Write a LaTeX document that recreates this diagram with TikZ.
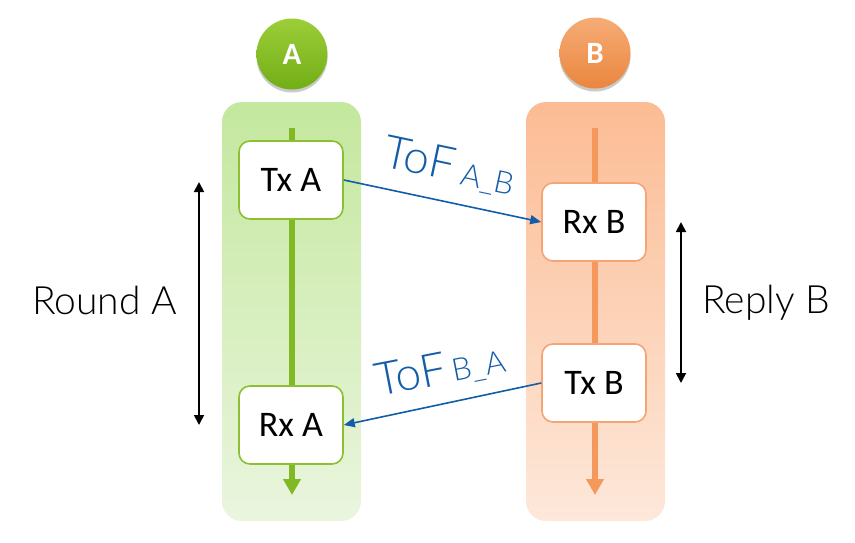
\documentclass[tikz,border=0pt]{standalone}
\usepackage{fontspec}
\setmainfont{Carlito}
\newfontfamily\lightfont{Lato Light}
\usetikzlibrary{arrows.meta,shadows}
\definecolor{grnline}{RGB}{128,184,38}
\definecolor{grnbox}{RGB}{140,192,50}
\definecolor{grnpanT}{RGB}{196,232,158}
\definecolor{grnpanB}{RGB}{234,245,222}
\definecolor{orgline}{RGB}{244,152,92}
\definecolor{orgbox}{RGB}{245,165,115}
\definecolor{orgpanT}{RGB}{252,188,148}
\definecolor{orgpanB}{RGB}{253,232,218}
\definecolor{tofblue}{RGB}{18,92,168}
\definecolor{grnT}{RGB}{156,206,56}
\definecolor{grnB}{RGB}{114,174,22}
\definecolor{orgT}{RGB}{246,172,118}
\definecolor{orgB}{RGB}{234,134,62}
\tikzset{
  panel/.style={rounded corners=20pt},
  evbox/.style={draw, line width=1.6pt, fill=white, rounded corners=11pt,
    minimum width=104pt, minimum height=78pt, inner sep=0pt,
    font=\fontsize{36}{40}\selectfont},
  badge/.style={circle, minimum size=71pt, inner sep=0pt, text=white,
    font=\fontsize{31}{31}\selectfont\bfseries,
    drop shadow={shadow xshift=0pt, shadow yshift=-3pt, opacity=0.35, fill=black!60}},
  timeline/.style={line width=5.5pt, -{Triangle[length=16pt,width=17pt]}},
  tof/.style={line width=1.6pt, draw=tofblue, -{Triangle[length=11pt,width=9pt]}},
  toflbl/.style={text=tofblue, inner sep=0pt, font=\lightfont\fontsize{46}{46}\selectfont},
  tofsub/.style={text=tofblue, inner sep=0pt, font=\lightfont\fontsize{31}{31}\selectfont},
  span/.style={line width=1.8pt, {Triangle[length=10pt,width=10pt]}-{Triangle[length=10pt,width=10pt]}},
  side/.style={inner sep=0pt, font=\lightfont\fontsize{39}{39}\selectfont}
}
\begin{document}
\begin{tikzpicture}[x=1pt,y=-1pt]
\useasboundingbox (0,0) rectangle (855,542);
% panels
\shade[panel, top color=grnpanT, bottom color=grnpanB] (222,102) rectangle (361,521);
\shade[panel, top color=orgpanT, bottom color=orgpanB] (526,102) rectangle (665,521);
% badges
\node[badge, top color=grnT, bottom color=grnB] (ca) at (292,54) {A};
\node[badge, top color=orgT, bottom color=orgB] (cb) at (595,53) {B};
% timelines
\coordinate (atop) at (292,128);
\coordinate (abot) at (292,495);
\coordinate (btop) at (595,128);
\coordinate (bbot) at (595,495);
\draw[timeline, draw=grnline, fill=grnline] (atop) -- (abot);
\draw[timeline, draw=orgline, fill=orgline] (btop) -- (bbot);
% boxes
\node[evbox, draw=grnbox] (txa) at (291,180) {Tx A};
\node[evbox, draw=grnbox] (rxa) at (291,425) {Rx A};
\node[evbox, draw=orgbox] (rxb) at (594,222) {Rx B};
\node[evbox, draw=orgbox] (txb) at (594,383) {Tx B};
% ToF arrows
\draw[tof] (txa.east) -- (rxb.west);
\draw[tof] (txb.west) -- (rxa.east);
\node[toflbl, rotate=-12, anchor=base west] (tofab) at (381,166) {ToF};
\node[tofsub, rotate=-12, anchor=base west] (subab) at (459,184) {A\_B};
\node[toflbl, rotate=11, anchor=base west] (tofba) at (378,397) {ToF};
\node[tofsub, rotate=11, anchor=base west] (subba) at (454,382) {B\_A};
% spans
\coordinate (ra1) at (199,182);
\coordinate (ra2) at (199,425);
\coordinate (rb1) at (681,222);
\coordinate (rb2) at (681,383);
\draw[span] (ra1) -- (ra2);
\draw[span] (rb1) -- (rb2);
\node[side, anchor=base west] (rounda) at (32,314) {Round A};
\node[side, anchor=base west] (replyb) at (702,313) {Reply B};
\end{tikzpicture}
\end{document}
